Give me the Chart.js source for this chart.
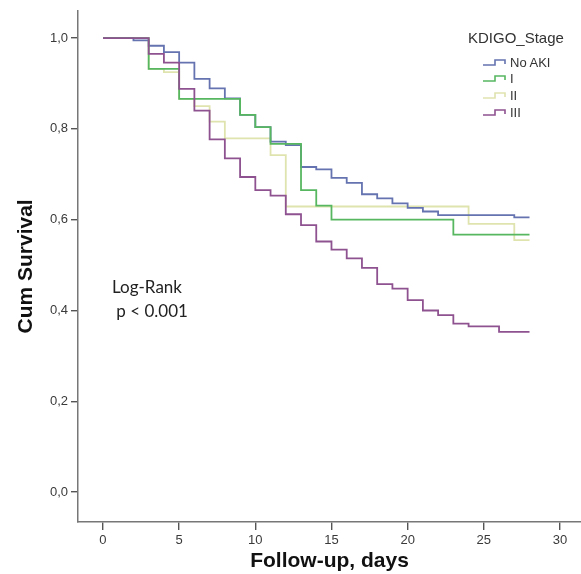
<!DOCTYPE html>
<html lang="en">
<head>
    <meta charset="UTF-8">
    <title>Cum Survival by KDIGO Stage</title>
    <script src="https://cdn.jsdelivr.net/npm/chart.js"></script>
    <style>
        body {
            margin: 0;
            background: #fff;
        }
        .wrap {
            position: relative;
            width: 581px;
            height: 574px;
        }
        #note {
            position: absolute;
            left: 112px;
            top: 275px;
            font-family: Lato, "Open Sans", sans-serif;
            font-size: 17px;
            line-height: 24px;
            color: #222;
        }
        #legend {
            position: absolute;
            left: 468px;
            top: 29px;
            font-family: "Liberation Sans", Arial, sans-serif;
            color: #333;
        }
        #legend .ttl {
            font-size: 15px;
            line-height: 18px;
            height: 25.6px;
        }
        #legend .row {
            position: relative;
            height: 16.7px;
            line-height: 16.7px;
            font-size: 13px;
            padding-left: 42px;
        }
        #legend svg {
            position: absolute;
            left: 15px;
            top: 0;
        }
    </style>
</head>
<body>
<div class="wrap">
    <canvas id="km" width="581" height="574"></canvas>
    <div id="note">Log-Rank<br>&nbsp;p &lt; 0.001</div>
    <div id="legend"></div>
</div>

<script>
    // group names / colours
    const groupNames = ['No AKI', 'I', 'II', 'III'];
    const groupColors = ['#6573b0', '#57b761', '#dfe3ae', '#8e5290'];

    // Kaplan-Meier steps (day, cumulative survival)
    const noAkiDays = [0, 2, 3, 4, 5, 6, 7, 8, 9, 10, 11, 12, 13, 14, 15, 16, 17, 18, 19, 20, 21, 22, 27, 28];
    const noAkiSurv = [1, 0.995, 0.983, 0.969, 0.946, 0.910, 0.889, 0.867, 0.831, 0.804, 0.772, 0.764, 0.716, 0.711, 0.692, 0.681, 0.656, 0.647, 0.636, 0.626, 0.618, 0.610, 0.605, 0.605];

    const stage1Days = [0, 3, 5, 9, 10, 11, 13, 14, 15, 23, 28];
    const stage1Surv = [1, 0.932, 0.866, 0.831, 0.804, 0.767, 0.665, 0.631, 0.600, 0.567, 0.567];

    const stage2Days = [0, 3, 4, 5, 6, 7, 8, 11, 12, 24, 27, 28];
    const stage2Surv = [1, 0.932, 0.925, 0.866, 0.850, 0.816, 0.779, 0.742, 0.629, 0.591, 0.555, 0.555];

    const stage3Days = [0, 3, 4, 5, 6, 7, 8, 9, 10, 11, 12, 13, 14, 15, 16, 17, 18, 19, 20, 21, 22, 23, 24, 26, 28];
    const stage3Surv = [1, 0.965, 0.946, 0.888, 0.840, 0.777, 0.735, 0.694, 0.665, 0.653, 0.612, 0.588, 0.552, 0.534, 0.515, 0.494, 0.458, 0.448, 0.423, 0.400, 0.390, 0.371, 0.365, 0.353, 0.353];

    // axis ticks
    const xTicks = [0, 5, 10, 15, 20, 25, 30];
    const xTickLabels = ['0', '5', '10', '15', '20', '25', '30'];
    const yTicks = [0, 0.2, 0.4, 0.6, 0.8, 1.0];
    const yTickLabels = ['0,0', '0,2', '0,4', '0,6', '0,8', '1,0'];

    function toPoints(days, surv) {
        return days.map((d, i) => ({ x: d, y: surv[i] }));
    }

    const series = [
        [noAkiDays, noAkiSurv],
        [stage1Days, stage1Surv],
        [stage2Days, stage2Surv],
        [stage3Days, stage3Surv]
    ];
    // purple drawn on top, pale yellow underneath
    const drawOrder = [2, 1, 3, 0];

    const datasets = series.map((s, i) => ({
        label: groupNames[i],
        data: toPoints(s[0], s[1]),
        borderColor: groupColors[i],
        borderWidth: 1.8,
        pointRadius: 0,
        stepped: 'before',
        fill: false,
        order: drawOrder[i]
    }));

    const axisColor = '#777';

    new Chart(document.getElementById('km'), {
        type: 'line',
        data: { datasets: datasets },
        options: {
            responsive: false,
            animation: false,
            layout: { padding: { top: 8, right: 0, left: 0, bottom: 0 } },
            plugins: {
                legend: { display: false },
                tooltip: { enabled: false }
            },
            scales: {
                x: {
                    type: 'linear',
                    min: -1.64,
                    max: 31.38,
                    afterBuildTicks: s => { s.ticks = xTicks.map(v => ({ value: v })); },
                    afterFit: s => { s.height = 52; },
                    ticks: {
                        callback: (v, i) => xTickLabels[i],
                        font: { family: 'Liberation Sans', size: 13 },
                        color: '#3a3a3a',
                        padding: 3,
                        maxRotation: 0
                    },
                    grid: { drawOnChartArea: false, tickLength: 8, color: '#555', lineWidth: 1.4 },
                    border: { color: axisColor, width: 1.5 },
                    title: {
                        display: true,
                        text: 'Follow-up, days',
                        font: { family: 'Liberation Sans', size: 21, weight: 'bold' },
                        color: '#111',
                        padding: { top: 0, bottom: 0 }
                    }
                },
                y: {
                    min: -0.0657,
                    max: 1.06,
                    afterBuildTicks: s => { s.ticks = yTicks.map(v => ({ value: v })); },
                    afterFit: s => { s.width = 78; },
                    ticks: {
                        callback: (v, i) => yTickLabels[i],
                        font: { family: 'Liberation Sans', size: 13 },
                        color: '#3a3a3a',
                        padding: 3
                    },
                    grid: { drawOnChartArea: false, tickLength: 7, color: '#555', lineWidth: 1.4 },
                    border: { color: axisColor, width: 1.5 },
                    title: {
                        display: true,
                        text: 'Cum Survival',
                        font: { family: 'Liberation Sans', size: 21, weight: 'bold' },
                        color: '#111',
                        padding: { top: 14, bottom: 0 }
                    }
                }
            }
        }
    });

    // legend with step glyphs
    const legend = document.getElementById('legend');
    let html = '<div class="ttl">KDIGO_Stage</div>';
    groupNames.forEach((name, i) => {
        html += '<div class="row"><svg width="27" height="17">' +
            '<polyline points="0,10 12,10 12,5 22,5 22,9" fill="none" stroke="' + groupColors[i] + '" stroke-width="1.6"/>' +
            '</svg>' + name + '</div>';
    });
    legend.innerHTML = html;
</script>
</body>
</html>
